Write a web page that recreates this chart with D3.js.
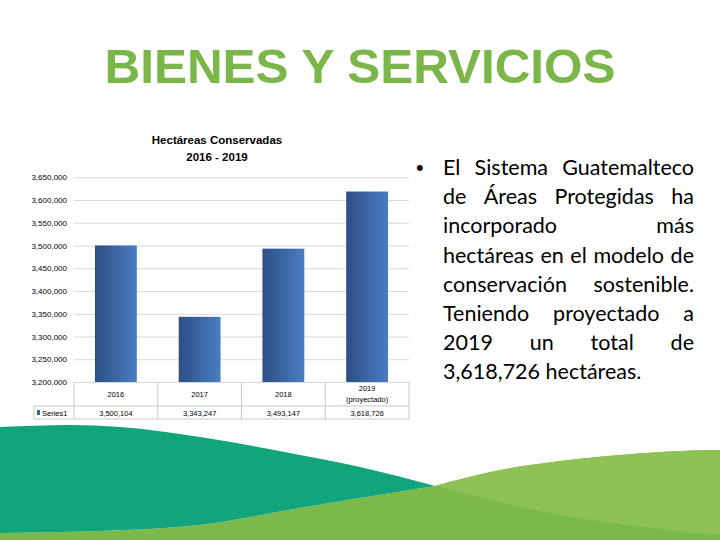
<!DOCTYPE html>
<html><head><meta charset="utf-8">
<script src="https://cdn.jsdelivr.net/npm/d3@7"></script>
<style>
html,body{margin:0;padding:0;background:#fff;}
svg{display:block;}
</style></head>
<body>
<svg id="c" width="720" height="540"></svg>
<script>
// ---- data ----
const categories = ["2016", "2017", "2018", "2019 (proyectado)"];
const categoryLines = [["2016"], ["2017"], ["2018"], ["2019", "(proyectado)"]];
const seriesName = "Series1";
const values = [3500104, 3343247, 3493147, 3618726];
const yTicks = [3200000, 3250000, 3300000, 3350000, 3400000, 3450000, 3500000, 3550000, 3600000, 3650000];
const mainTitle = "BIENES Y SERVICIOS";
const chartTitle = ["Hectáreas Conservadas", "2016 - 2019"];
const bulletLines = [
  "El Sistema Guatemalteco",
  "de Áreas Protegidas ha",
  "incorporado más",
  "hectáreas en el modelo de",
  "conservación sostenible.",
  "Teniendo proyectado a",
  "2019 un total de",
  "3,618,726 hectáreas."
];

const svg = d3.select("#c");
const fmt = d3.format(",");

// ---- decorative waves ----
const wave = d3.line().curve(d3.curveMonotoneX);
const waveTeal = [[0,427],[70,425],[120,427],[200,437],[300,455],[360,467],[435,486]];
const waveTealBottom = [[0,533],[100,531],[200,525],[300,508],[360,498],[435,486]];
const waveLightTop = [[435,486],[500,470],[560,461],[620,455],[680,451],[720,450]];
const waveLightBottom = [[435,486],[500,502],[560,515],[620,524],[660,529],[720,535]];

function closedPath(top, bottom) {
  const t = wave(top);
  const b = wave(bottom.slice().reverse());
  return t + "L" + b.slice(1) + "Z";
}
// dark green base
svg.append("path")
  .attr("d", wave(waveTealBottom) + "L" + wave(waveLightTop).slice(1) + "L720,540L0,540Z")
  .attr("fill", "#7ab94a");
// light green
svg.append("path")
  .attr("d", wave(waveLightTop) + "L" + wave(waveLightBottom.slice().reverse()).slice(1) + "Z")
  .attr("fill", "#8ec255");
// teal
svg.append("path")
  .attr("d", wave(waveTeal) + "L" + wave(waveTealBottom.slice().reverse()).slice(1) + "Z")
  .attr("fill", "#12a57b");

// ---- main title ----
svg.append("text")
  .attr("x", 360).attr("y", 83)
  .attr("text-anchor", "middle")
  .attr("font-family", "Liberation Sans, Arial, sans-serif")
  .attr("font-weight", "bold")
  .attr("font-size", 49)
  .attr("fill", "#7ab648")
  .attr("textLength", 511)
  .attr("lengthAdjust", "spacingAndGlyphs")
  .text(mainTitle);

// ---- chart ----
const chartFont = "Liberation Sans, Arial, sans-serif";
const plotLeft = 74, plotRight = 409, plotTop = 177.3, plotBottom = 382;
const x = d3.scaleBand().domain(categories).range([plotLeft, plotRight]).paddingInner(0.5).paddingOuter(0.25);
const y = d3.scaleLinear().domain([3200000, 3650000]).range([plotBottom, plotTop]);

svg.append("g").selectAll("text").data(chartTitle).join("text")
  .attr("x", 217).attr("y", (d, i) => 144 + i * 17)
  .attr("text-anchor", "middle")
  .attr("font-family", chartFont)
  .attr("font-weight", "bold")
  .attr("font-size", 11.5)
  .attr("fill", "#000")
  .text(d => d);

const yAxis = d3.axisLeft(y).tickValues(yTicks).tickFormat(fmt)
  .tickSize(-(plotRight - plotLeft)).tickPadding(7);
const gy = svg.append("g").attr("transform", `translate(${plotLeft},0)`).call(yAxis);
gy.select(".domain").remove();
gy.selectAll(".tick line").attr("stroke", "#d9d9d9").attr("stroke-width", 1);
gy.selectAll(".tick text").attr("font-family", chartFont).attr("font-size", 8).attr("fill", "#000");

// gradient
const defs = svg.append("defs");
const grad = defs.append("linearGradient").attr("id", "barGrad").attr("x1", "0%").attr("x2", "100%").attr("y1", "0%").attr("y2", "0%");
grad.append("stop").attr("offset", "0%").attr("stop-color", "#2c4f85");
grad.append("stop").attr("offset", "100%").attr("stop-color", "#4a7dc2");

svg.append("g").selectAll("rect").data(values).join("rect")
  .attr("x", (d, i) => x(categories[i]))
  .attr("width", x.bandwidth())
  .attr("y", d => y(d))
  .attr("height", d => y(3200000) - y(d))
  .attr("fill", "url(#barGrad)");

// ---- data table ----
const step = x.step();
const tableLeft = 34, row1Bottom = 406, row2Bottom = 419;
const tg = svg.append("g").attr("stroke", "#c8c8c8").attr("stroke-width", 1).attr("fill", "none");
const colEdges = d3.range(categories.length + 1).map(i => plotLeft + i * step);
tg.selectAll("line.v").data(colEdges).join("line")
  .attr("x1", d => d).attr("x2", d => d).attr("y1", plotBottom).attr("y2", row2Bottom);
tg.append("line").attr("x1", tableLeft).attr("x2", tableLeft).attr("y1", row1Bottom).attr("y2", row2Bottom);
tg.append("line").attr("x1", tableLeft).attr("x2", plotRight).attr("y1", row1Bottom).attr("y2", row1Bottom);
tg.append("line").attr("x1", tableLeft).attr("x2", plotRight).attr("y1", row2Bottom).attr("y2", row2Bottom);

const cg = svg.append("g").attr("font-family", chartFont).attr("font-size", 7.5).attr("fill", "#000").attr("text-anchor", "middle");
categoryLines.forEach((lines, i) => {
  const cx = plotLeft + (i + 0.5) * step;
  const y0 = lines.length === 1 ? 397 : 391;
  lines.forEach((t, j) => {
    cg.append("text").attr("x", cx).attr("y", y0 + j * 11).text(t);
  });
  cg.append("text").attr("x", cx).attr("y", 415.5).text(fmt(values[i]));
});
svg.append("rect").attr("x", 37).attr("y", 410).attr("width", 3).attr("height", 5).attr("fill", "#3a66a6");
svg.append("text").attr("x", 42).attr("y", 415.5).attr("font-family", chartFont).attr("font-size", 7.5).text(seriesName);

// ---- bullet text ----
const bFont = "Lato, 'Open Sans', sans-serif";
const textLeft = 443, textRight = 694;
const bg = svg.append("g").attr("font-family", bFont).attr("fill", "#000");
let fs = 24;
function wordWidth(w, size) {
  const t = bg.append("text").attr("font-size", size).text(w);
  const wd = t.node().getComputedTextLength();
  t.remove();
  return wd;
}
// fit font so tightest line fits the column
for (let k = 0; k < 20; k++) {
  const maxW = d3.max(bulletLines, l => wordWidth(l, fs));
  if (maxW <= (textRight - textLeft)) break;
  fs -= 0.5;
}
bg.attr("font-size", fs);
bg.append("text").attr("x", 416).attr("y", 175).attr("font-family", "Arial, sans-serif").text("•");
bulletLines.forEach((line, i) => {
  const by = 175 + i * 29.2;
  const words = line.split(" ");
  if (i === bulletLines.length - 1 || words.length === 1) {
    bg.append("text").attr("x", textLeft).attr("y", by).text(line);
    return;
  }
  const widths = words.map(w => wordWidth(w, fs));
  const gap = ((textRight - textLeft) - d3.sum(widths)) / (words.length - 1);
  let cx = textLeft;
  words.forEach((w, j) => {
    bg.append("text").attr("x", cx).attr("y", by).text(w);
    cx += widths[j] + gap;
  });
});
</script>
</body></html>
